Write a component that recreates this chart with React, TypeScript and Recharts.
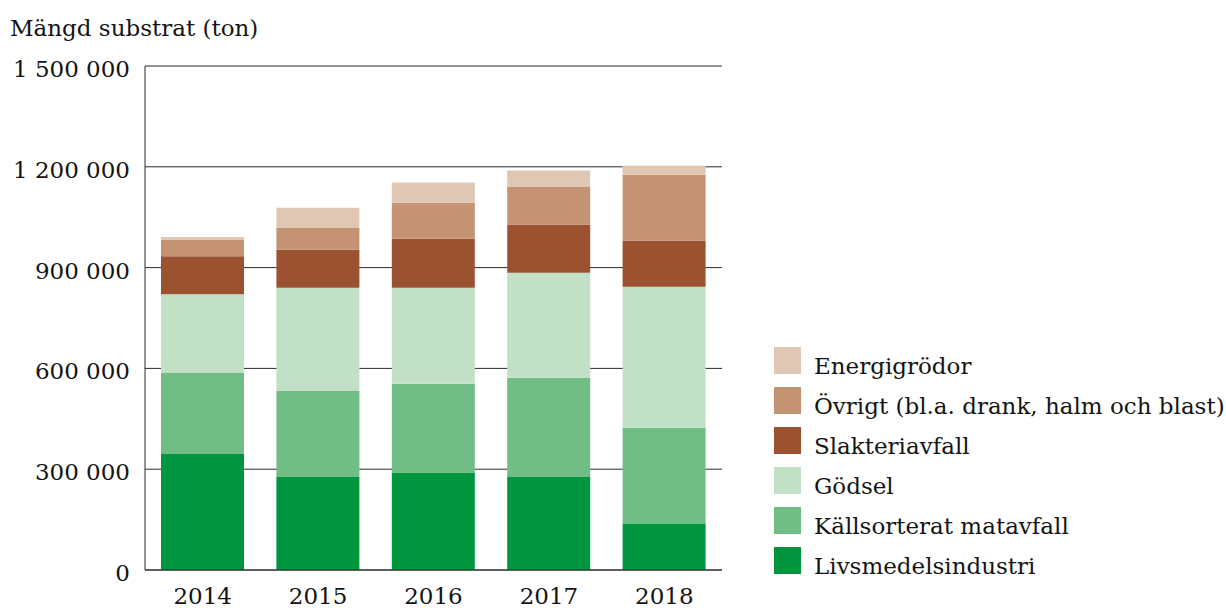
import React from 'react';
import { BarChart, Bar, XAxis, YAxis, CartesianGrid, Legend } from 'recharts';

const years = ['2014', '2015', '2016', '2017', '2018'];
const livsmedel = [345000, 277000, 289000, 277000, 137000];
const kallsorterat = [241000, 256000, 265000, 295000, 286000];
const godsel = [235000, 307000, 286000, 313000, 420000];
const slakteri = [113000, 113000, 146000, 143000, 137000];
const ovrigt = [48000, 65000, 107000, 113000, 196000];
const energi = [9000, 60000, 60000, 48000, 27000];
const yTicks = [0, 300000, 600000, 900000, 1200000, 1500000];

const title = 'Mängd substrat (ton)';

const series = [
  { key: 'livsmedel', name: 'Livsmedelsindustri', color: '#009640', values: livsmedel },
  { key: 'kallsorterat', name: 'Källsorterat matavfall', color: '#70bd86', values: kallsorterat },
  { key: 'godsel', name: 'Gödsel', color: '#c2e0c6', values: godsel },
  { key: 'slakteri', name: 'Slakteriavfall', color: '#9b5231', values: slakteri },
  { key: 'ovrigt', name: 'Övrigt (bl.a. drank, halm och blast)', color: '#c49373', values: ovrigt },
  { key: 'energi', name: 'Energigrödor', color: '#e0c7b4', values: energi },
];

const data = years.map((y, i) => {
  const row: Record<string, any> = { year: y };
  series.forEach((s) => {
    row[s.key] = s.values[i];
  });
  return row;
});

const FONT = '"DejaVu Serif", serif';
const TEXT = '#141414';

const fmt = (v: number) => String(v).replace(/\B(?=(\d{3})+(?!\d))/g, ' ');

const YTick = (props: any) => {
  const { x, y, payload } = props;
  return (
    <text x={x} y={y + 11} textAnchor="end" fontFamily={FONT} fontSize={23} fill={TEXT}>
      {fmt(payload.value)}
    </text>
  );
};

const XTick = (props: any) => {
  const { x, y, payload } = props;
  return (
    <text x={x} y={y + 34} textAnchor="middle" fontFamily={FONT} fontSize={23} fill={TEXT}>
      {payload.value}
    </text>
  );
};

const LegendContent = () => {
  const items = [...series].reverse();
  return (
    <svg width={452} height={240} style={{ display: 'block', overflow: 'visible' }}>
      {items.map((s, i) => (
        <g key={s.key}>
          <rect x={0} y={i * 40} width={27} height={27} fill={s.color} />
          <text x={40} y={i * 40 + 27} fontFamily={FONT} fontSize={23} fill={TEXT}>
            {s.name}
          </text>
        </g>
      ))}
    </svg>
  );
};

export default function App() {
  return (
    <div style={{ position: 'absolute', left: 0, top: 0, width: 1226, height: 608, background: '#fff' }}>
      <div
        style={{
          position: 'absolute',
          left: 10,
          top: 14.5,
          fontFamily: FONT,
          fontSize: 23,
          lineHeight: '27px',
          color: TEXT,
          whiteSpace: 'nowrap',
        }}
      >
        {title}
      </div>
      <BarChart
        width={1226}
        height={608}
        data={data}
        margin={{ top: 66, right: 504, bottom: 0, left: 0 }}
        barSize={83}
      >
        <CartesianGrid horizontal vertical={false} stroke="#2a2a2a" strokeWidth={1} />
        <XAxis
          dataKey="year"
          height={38}
          tickLine={false}
          tickSize={0}
          tickMargin={0}
          axisLine={{ stroke: '#2a2a2a', strokeWidth: 1 }}
          tick={<XTick />}
          interval={0}
        />
        <YAxis
          width={145}
          domain={[0, 1500000]}
          ticks={yTicks}
          tickLine={false}
          tickSize={0}
          tickMargin={15}
          axisLine={{ stroke: '#2a2a2a', strokeWidth: 1 }}
          tick={<YTick />}
          interval={0}
        />
        <Legend
          layout="vertical"
          align="center"
          verticalAlign="middle"
          content={<LegendContent />}
          wrapperStyle={{ left: 774, top: 347, width: 452, height: 240 }}
        />
        {series.map((s) => (
          <Bar key={s.key} dataKey={s.key} name={s.name} stackId="a" fill={s.color} isAnimationActive={false} />
        ))}
      </BarChart>
    </div>
  );
}
